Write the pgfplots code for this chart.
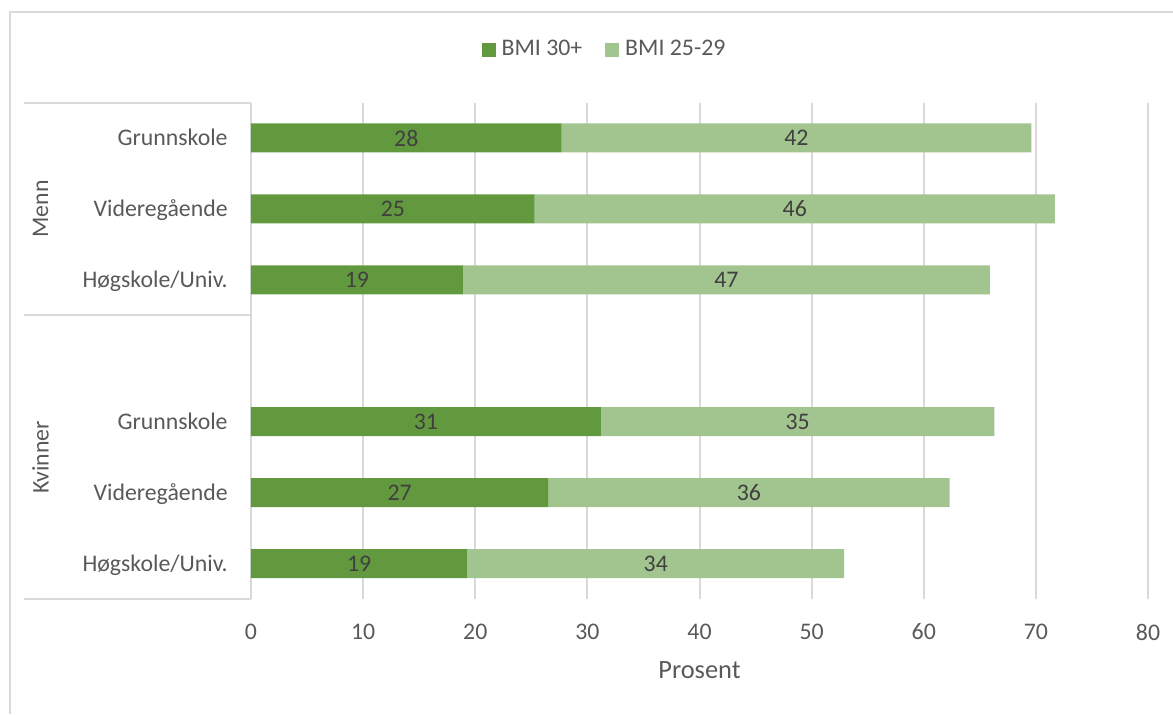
\documentclass[border=0pt]{standalone}
\usepackage{pgfplots}
\pgfplotsset{compat=1.18}
\usepackage{pgfplotstable}
\usepackage{fontspec}
\setmainfont{Carlito}

\definecolor{obese}{HTML}{62993E}
\definecolor{overweight}{HTML}{A2C48F}
\definecolor{gridgray}{HTML}{D9D9D9}
\definecolor{labelgray}{HTML}{595959}
\definecolor{valuegray}{HTML}{404040}

% Share of adults with BMI 30+ and BMI 25-29 (per cent), by sex and education.
% pos: row on the category axis (7 = top); 4 is the empty row between the groups.
\pgfplotstableread{
pos dark light
7 27.7 41.9
6 25.3 46.4
5 18.9 47.0
3 31.2 35.1
2 26.5 35.8
1 19.3 33.6
}\bmidata

\newcommand{\chartfont}{\fontsize{11.9}{14}\selectfont}

\pgfplotsset{
  square legend/.style={
    legend image code/.code={\fill[##1] (0pt,-3.5pt) rectangle (7pt,3.5pt);}
  },
  % value label of each segment (stacked bars put it in the segment's middle)
  centred value/.style={
    point meta=\thisrow{#1},
    nodes near coords={\pgfmathprintnumber[fixed,precision=0]{\pgfplotspointmeta}},
    nodes near coords style={anchor=center, inner sep=0pt, font=\chartfont,
      text=valuegray},
  },
}

\begin{document}
\chartfont
\begin{tikzpicture}
\useasboundingbox (0,0) rectangle (586.5pt,357pt);
% chart frame
\draw[gridgray, line width=1pt] (5pt,0) -- (5pt,351pt) -- (586.5pt,351pt);
\begin{axis}[
  at={(125.5pt,57.5pt)}, anchor=south west,
  scale only axis, width=448.5pt, height=248.25pt,
  xbar stacked, bar width=14.5pt,
  xmin=0, xmax=80, ymin=0.5, ymax=7.5,
  xtick={0,10,...,80},
  ytick={1,2,3,5,6,7},
  yticklabels={Høgskole/Univ.,Videregående,Grunnskole,Høgskole/Univ.,Videregående,Grunnskole},
  axis line style={draw=none},
  major tick length=0pt,
  xmajorgrids, grid style={gridgray, line width=1pt},
  /pgf/number format/assume math mode=true,
  tick label style={font=\chartfont, text=labelgray},
  xticklabel style={anchor=center, inner sep=0pt, yshift=-16.5pt},
  yticklabel style={anchor=base east, inner sep=0pt, xshift=-11.5pt, yshift=-3.8pt},
  xlabel={Prosent},
  xlabel style={at={(axis description cs:0.5,0)}, anchor=center, yshift=-35.5pt,
    font=\fontsize{13.2}{16}\selectfont, text=labelgray},
  legend columns=2,
  legend style={at={(0.393,1.1057)}, anchor=center, draw=none, fill=none,
    inner sep=0pt, column sep=3pt, font=\chartfont, text=labelgray,
    nodes={inner sep=0pt},
    /tikz/every even column/.append style={column sep=11.5pt}},
  clip=false,
]
\addplot[fill=obese, draw=none, square legend, centred value=dark]
  table[x=dark, y=pos] {\bmidata};
\addlegendentry{BMI 30+}
\addplot[fill=overweight, draw=none, square legend, centred value=light]
  table[x=light, y=pos] {\bmidata};
\addlegendentry{BMI 25-29}

% group separators on the category axis
\draw[gridgray, line width=1pt] (axis cs:0,7.5) -- ++(-113.5pt,0pt);
\draw[gridgray, line width=1pt] (axis cs:0,4.5) -- ++(-113.5pt,0pt);
\draw[gridgray, line width=1pt] (axis cs:0,0.5) -- ++(-113.5pt,0pt);
% group names
\node[font=\chartfont, text=labelgray, rotate=90] at ([xshift=-105.25pt]axis cs:0,6) {Menn};
\node[font=\chartfont, text=labelgray, rotate=90] at ([xshift=-105.25pt]axis cs:0,2.5) {Kvinner};
\end{axis}
\end{tikzpicture}
\end{document}
